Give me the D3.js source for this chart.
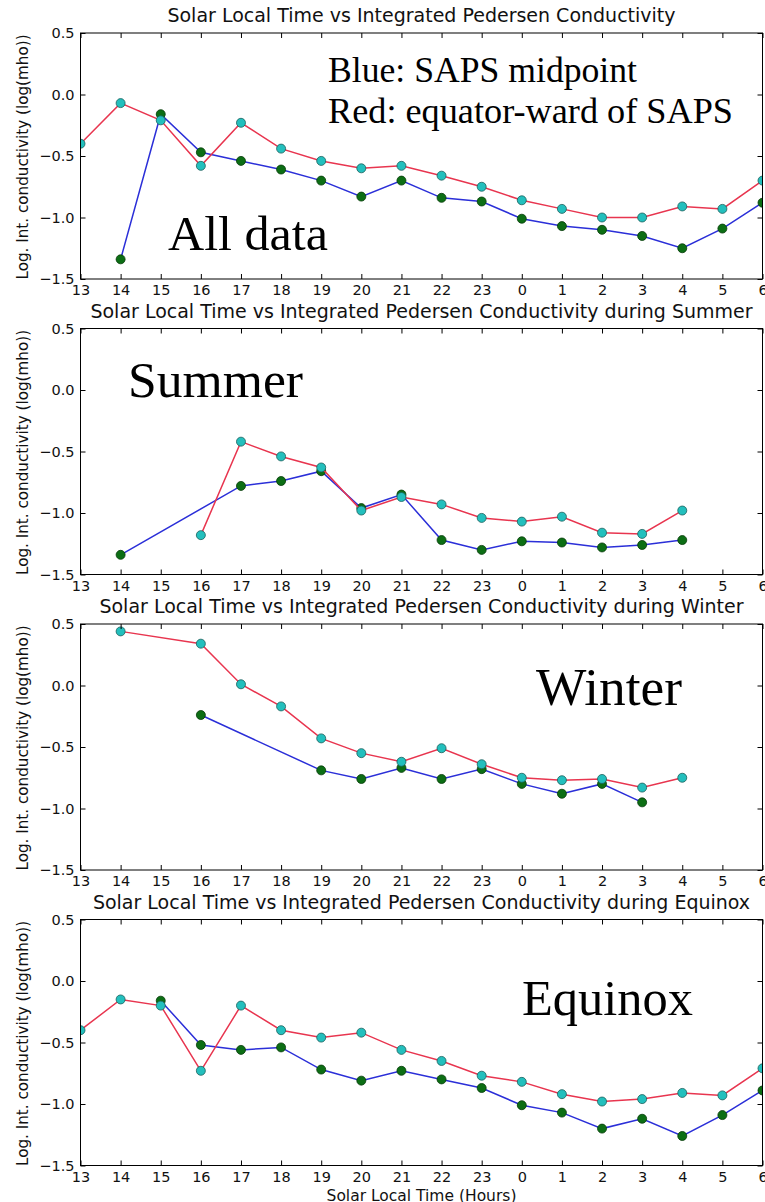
<!DOCTYPE html>
<html lang="en">
<head>
    <meta charset="UTF-8">
    <title>Solar Local Time vs Integrated Pedersen Conductivity</title>
    <script src="https://cdn.jsdelivr.net/npm/d3@7"></script>
    <style>
        body {
            margin: 0;
            background-color: #fff;
        }
        svg {
            display: block;
        }
        .tick text {
            font-family: 'DejaVu Sans', sans-serif;
            font-size: 14.5px;
            fill: #111;
        }
        .tick line {
            stroke: #000;
        }
        .title, .ylabel, .xlabel {
            font-family: 'DejaVu Sans', sans-serif;
            fill: #111;
        }
        .note {
            font-family: 'Liberation Serif', 'Times New Roman', serif;
            fill: #000;
        }
    </style>
</head>
<body>
    <svg></svg>

    <script>
        // solar local time, one tick per hour
        const hours = [13, 14, 15, 16, 17, 18, 19, 20, 21, 22, 23, 0, 1, 2, 3, 4, 5, 6];
        const yTicks = [-1.5, -1.0, -0.5, 0.0, 0.5];

        // red = equator-ward of SAPS (cyan markers), blue = SAPS midpoint (green markers)
        const allRed    = [-0.40, -0.07, -0.21, -0.58, -0.23, -0.44, -0.54, -0.60, -0.58, -0.66, -0.75, -0.86, -0.93, -1.00, -1.00, -0.91, -0.93, -0.70];
        const allBlue   = [null, -1.34, -0.16, -0.47, -0.54, -0.61, -0.70, -0.83, -0.70, -0.84, -0.87, -1.01, -1.07, -1.10, -1.15, -1.25, -1.09, -0.88];

        const summerRed  = [null, null, null, -1.18, -0.42, -0.54, -0.63, -0.98, -0.87, -0.93, -1.04, -1.07, -1.03, -1.16, -1.17, -0.98, null, null];
        const summerBlue = [null, -1.34, null, null, -0.78, -0.74, -0.66, -0.96, -0.85, -1.22, -1.30, -1.23, -1.24, -1.28, -1.26, -1.22, null, null];

        const winterRed  = [null, 0.44, null, 0.34, 0.01, -0.17, -0.43, -0.55, -0.62, -0.51, -0.64, -0.75, -0.77, -0.76, -0.83, -0.75, null, null];
        const winterBlue = [null, null, null, -0.24, null, null, -0.69, -0.76, -0.67, -0.76, -0.68, -0.80, -0.88, -0.80, -0.95, null, null, null];

        const equinoxRed  = [-0.40, -0.15, -0.20, -0.73, -0.20, -0.40, -0.46, -0.42, -0.56, -0.65, -0.77, -0.82, -0.92, -0.98, -0.96, -0.91, -0.93, -0.71];
        const equinoxBlue = [null, null, -0.16, -0.52, -0.56, -0.54, -0.72, -0.81, -0.73, -0.80, -0.87, -1.01, -1.07, -1.20, -1.12, -1.26, -1.09, -0.89];

        const titles = [
            "Solar Local Time vs Integrated Pedersen Conductivity",
            "Solar Local Time vs Integrated Pedersen Conductivity during Summer",
            "Solar Local Time vs Integrated Pedersen Conductivity during Winter",
            "Solar Local Time vs Integrated Pedersen Conductivity during Equinox"
        ];

        const panels = [
            {red: allRed, blue: allBlue, top: 33,
             notes: [{t: "All data", x: 168, dy: 217, size: 49, w: 160}]},
            {red: summerRed, blue: summerBlue, top: 328.5,
             notes: [{t: "Summer", x: 128, dy: 68, size: 51, w: 175}]},
            {red: winterRed, blue: winterBlue, top: 624,
             notes: [{t: "Winter", x: 536, dy: 81, size: 52, w: 146}]},
            {red: equinoxRed, blue: equinoxBlue, top: 919.5,
             notes: [{t: "Equinox", x: 522, dy: 95, size: 50, w: 171}]}
        ];
        panels[0].notes.push({t: "Blue: SAPS midpoint", x: 328, dy: 49, size: 35, w: 309});
        panels[0].notes.push({t: "Red: equator-ward of SAPS", x: 328, dy: 90, size: 35, w: 405});

        const width = 765, height = 1202;
        const left = 80.5, right = 762.5, plotH = 246;

        const svg = d3.select("svg")
            .attr("width", width)
            .attr("height", height);

        const x = d3.scaleLinear().domain([0, hours.length - 1]).range([left, right]);

        panels.forEach((p, k) => {
            const top = p.top, bottom = top + plotH;
            const y = d3.scaleLinear().domain([-1.5, 0.5]).range([bottom, top]);
            const g = svg.append("g");

            g.append("clipPath").attr("id", "clip" + k)
                .append("rect")
                .attr("x", left).attr("y", top)
                .attr("width", right - left).attr("height", plotH);

            const plot = g.append("g").attr("clip-path", `url(#clip${k})`);

            const line = d3.line()
                .x(d => x(d.i))
                .y(d => y(d.v));

            const series = [
                {vals: p.blue, stroke: "#2b2fd8", fill: "#0c6e14", edge: "#053a08"},
                {vals: p.red, stroke: "#e8354f", fill: "#23bfbd", edge: "#1b5f5c"}
            ];

            series.forEach(s => {
                const pts = s.vals.map((v, i) => ({i: i, v: v})).filter(d => d.v !== null);
                plot.append("path")
                    .datum(pts)
                    .attr("fill", "none")
                    .attr("stroke", s.stroke)
                    .attr("stroke-width", 1.5)
                    .attr("d", line);
                plot.selectAll(null)
                    .data(pts)
                    .enter().append("circle")
                    .attr("cx", d => x(d.i))
                    .attr("cy", d => y(d.v))
                    .attr("r", 4.5)
                    .attr("fill", s.fill)
                    .attr("stroke", s.edge)
                    .attr("stroke-width", 0.8);
            });

            // ticks point inward on all four sides
            const xb = d3.axisBottom(x).tickValues(d3.range(hours.length))
                .tickFormat(i => hours[i]).tickSizeInner(-5).tickSizeOuter(0).tickPadding(6);
            const xt = d3.axisTop(x).tickValues(d3.range(hours.length))
                .tickFormat("").tickSizeInner(-5).tickSizeOuter(0);
            const yl = d3.axisLeft(y).tickValues(yTicks)
                .tickFormat(d3.format(".1f")).tickSizeInner(-5).tickSizeOuter(0).tickPadding(6);
            const yr = d3.axisRight(y).tickValues(yTicks)
                .tickFormat("").tickSizeInner(-5).tickSizeOuter(0);

            g.append("g").attr("transform", `translate(0,${bottom})`).call(xb);
            g.append("g").attr("transform", `translate(0,${top})`).call(xt);
            g.append("g").attr("transform", `translate(${left},0)`).call(yl);
            g.append("g").attr("transform", `translate(${right},0)`).call(yr);
            g.selectAll(".domain").remove();

            g.append("rect")
                .attr("x", left).attr("y", top)
                .attr("width", right - left).attr("height", plotH)
                .attr("fill", "none")
                .attr("stroke", "#000")
                .attr("stroke-width", 1);

            g.append("text")
                .attr("class", "title")
                .attr("x", (left + right) / 2)
                .attr("y", top - 11)
                .attr("text-anchor", "middle")
                .attr("font-size", 19)
                .text(titles[k]);

            g.append("text")
                .attr("class", "ylabel")
                .attr("transform", `translate(28,${top + plotH / 2 + 1}) rotate(-90)`)
                .attr("text-anchor", "middle")
                .attr("font-size", 15.2)
                .text("Log. Int. conductivity (log(mho))");

            p.notes.forEach(n => {
                g.append("text")
                    .attr("class", "note")
                    .attr("x", n.x)
                    .attr("y", top + n.dy)
                    .attr("font-size", n.size)
                    .attr("textLength", n.w)
                    .attr("lengthAdjust", "spacingAndGlyphs")
                    .text(n.t);
            });

            if (k === panels.length - 1) {
                g.append("text")
                    .attr("class", "xlabel")
                    .attr("x", (left + right) / 2)
                    .attr("y", 1200.5)
                    .attr("text-anchor", "middle")
                    .attr("font-size", 15.5)
                    .text("Solar Local Time (Hours)");
            }
        });
    </script>
</body>
</html>
